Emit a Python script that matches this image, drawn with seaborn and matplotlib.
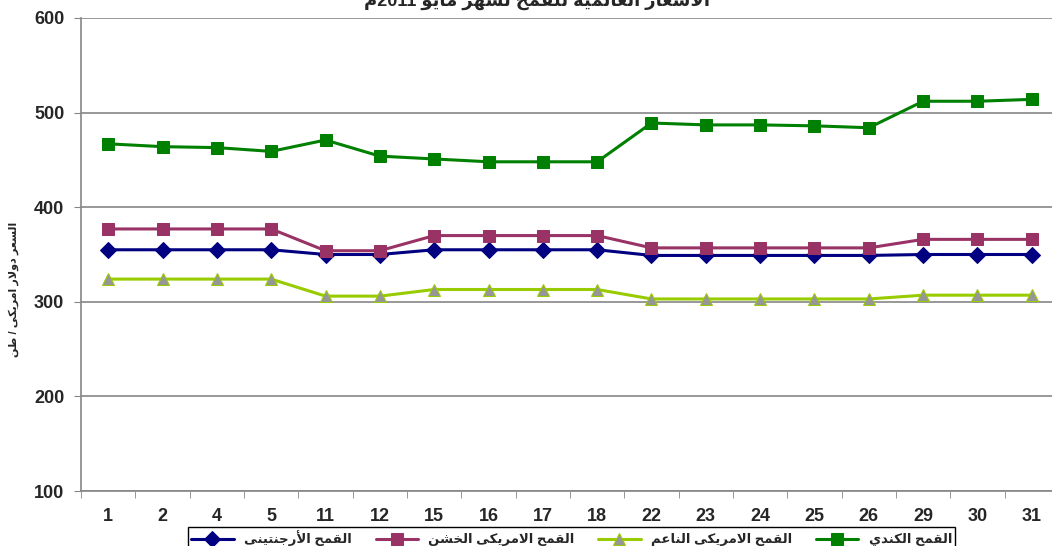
import re
import pandas as pd
import seaborn as sns
import matplotlib
matplotlib.use('Agg')
import matplotlib.pyplot as plt

#%% data
days = ['1', '2', '4', '5', '11', '12', '15', '16', '17', '18',
        '22', '23', '24', '25', '26', '29', '30', '31']
argentine = [355, 355, 355, 355, 350, 350, 355, 355, 355, 355,
             349, 349, 349, 349, 349, 350, 350, 350]
us_hard = [377, 377, 377, 377, 354, 354, 370, 370, 370, 370,
           357, 357, 357, 357, 357, 366, 366, 366]
us_soft = [324, 324, 324, 324, 306, 306, 313, 313, 313, 313,
           303, 303, 303, 303, 303, 307, 307, 307]
canadian = [467, 464, 463, 459, 471, 454, 451, 448, 448, 448,
            489, 487, 487, 486, 484, 512, 512, 514]

title = 'الأسعار العالمية للقمح لشهر مايو 2011م'
ylabel = 'السعر دولار امريكى / طن'
names = ['القمح الأرجنتينى', 'القمح الامريكى الخشن', 'القمح الامريكى الناعم', 'القمح الكندي']

#%% simple arabic shaping (no arabic_reshaper in sandbox)
FORMS = {
    'ا': ('\uFE8D', '\uFE8E'), 'أ': ('\uFE83', '\uFE84'),
    'د': ('\uFEA9', '\uFEAA'), 'ر': ('\uFEAD', '\uFEAE'),
    'و': ('\uFEED', '\uFEEE'), 'ة': ('\uFE93', '\uFE94'),
    'ب': ('\uFE8F', '\uFE90', '\uFE91', '\uFE92'),
    'ت': ('\uFE95', '\uFE96', '\uFE97', '\uFE98'),
    'ج': ('\uFE9D', '\uFE9E', '\uFE9F', '\uFEA0'),
    'ح': ('\uFEA1', '\uFEA2', '\uFEA3', '\uFEA4'),
    'خ': ('\uFEA5', '\uFEA6', '\uFEA7', '\uFEA8'),
    'س': ('\uFEB1', '\uFEB2', '\uFEB3', '\uFEB4'),
    'ش': ('\uFEB5', '\uFEB6', '\uFEB7', '\uFEB8'),
    'ط': ('\uFEC1', '\uFEC2', '\uFEC3', '\uFEC4'),
    'ع': ('\uFEC9', '\uFECA', '\uFECB', '\uFECC'),
    'ق': ('\uFED5', '\uFED6', '\uFED7', '\uFED8'),
    'ك': ('\uFED9', '\uFEDA', '\uFEDB', '\uFEDC'),
    'ل': ('\uFEDD', '\uFEDE', '\uFEDF', '\uFEE0'),
    'م': ('\uFEE1', '\uFEE2', '\uFEE3', '\uFEE4'),
    'ن': ('\uFEE5', '\uFEE6', '\uFEE7', '\uFEE8'),
    'ه': ('\uFEE9', '\uFEEA', '\uFEEB', '\uFEEC'),
    'ي': ('\uFEF1', '\uFEF2', '\uFEF3', '\uFEF4'),
    'ى': ('\uFEEF', '\uFEF0', '\uFBE8', '\uFBE9'),
    'لا': ('\uFEFB', '\uFEFC'), 'لأ': ('\uFEF7', '\uFEF8'),
}

def shape(text):
    units = []
    i = 0
    while i < len(text):
        if text[i] == 'ل' and i + 1 < len(text) and text[i + 1] in 'اأ':
            units.append(text[i:i + 2])
            i += 2
        else:
            units.append(text[i])
            i += 1
    out = []
    for k, u in enumerate(units):
        if u not in FORMS:
            out.append(u)
            continue
        prev = units[k - 1] if k > 0 else None
        nxt = units[k + 1] if k + 1 < len(units) else None
        jp = prev in FORMS and len(FORMS[prev]) == 4
        jn = len(FORMS[u]) == 4 and nxt in FORMS
        f = FORMS[u]
        if jp and jn:
            out.append(f[3])
        elif jp:
            out.append(f[1])
        elif jn:
            out.append(f[2])
        else:
            out.append(f[0])
    s = ''.join(out)[::-1]
    return re.sub(r'[0-9]+', lambda m: m.group(0)[::-1], s)

#%% plot setup
sns.set_style('white')
plt.rcParams['font.family'] = ['Liberation Sans', 'DejaVu Sans']
plt.rcParams['font.weight'] = 'bold'

fig = plt.figure(figsize=(10.52, 5.46), dpi=100)
ax = fig.add_axes([81 / 1052, 1 - 491 / 546, 978 / 1052, 473 / 546])

styles = [
    dict(color='#000080', marker='D', markersize=8, mfc='#000080', mec='#000080'),
    dict(color='#993366', marker='s', markersize=8, mfc='#993366', mec='#993366'),
    dict(color='#99CC00', marker='^', markersize=8, mfc='#969696', mec='#99CC00'),
    dict(color='#008000', marker='s', markersize=8, mfc='#008000', mec='#008000'),
]
series = [argentine, us_hard, us_soft, canadian]
for vals, name, st in zip(series, names, styles):
    df = pd.DataFrame({'day': days, 'price': vals})
    sns.lineplot(data=df, x='day', y='price', ax=ax, sort=False, linewidth=2.2,
                 label=shape(name), **st)

ax.set_ylim(100, 600)
ax.set_xlim(-0.5, len(days) - 0.5)
ax.set_yticks(range(100, 700, 100))
ax.yaxis.grid(True, color='#868686', linewidth=1.2)
ax.set_xlabel(None)
ax.set_ylabel(None)
for s in ['top', 'right']:
    ax.spines[s].set_visible(False)
for s in ['left', 'bottom']:
    ax.spines[s].set_color('#868686')
    ax.spines[s].set_linewidth(1.2)
ax.set_xticks([i - 0.5 for i in range(len(days) + 1)], minor=True)
ax.tick_params(axis='x', which='major', length=0, pad=12, labelsize=13)
ax.tick_params(axis='x', which='minor', length=5, color='#868686', direction='out', bottom=True)
ax.tick_params(axis='y', length=5, color='#868686', direction='out', left=True, labelsize=13, pad=7)
for lab in ax.get_xticklabels() + ax.get_yticklabels():
    lab.set_fontweight('bold')

fig.text(537 / 1052, 1 - 7 / 546, shape(title), ha='center', va='baseline',
         fontsize=13, fontweight='bold')
fig.text(14 / 1052, 1 - 289 / 546, shape(ylabel), ha='center', va='center',
         rotation=90, fontsize=8, fontweight='bold')

ax.legend_.remove()
handles, labels = ax.get_legend_handles_labels()
leg = fig.legend(handles, labels, loc='upper left', bbox_to_anchor=(188 / 1052, 1 - 527 / 546),
                 ncol=4, frameon=True, fancybox=False, edgecolor='black', framealpha=1,
                 prop=dict(size=9.5, weight='bold'), handlelength=3.2, columnspacing=1.8,
                 borderpad=0.25, handletextpad=0.8, borderaxespad=0)
leg.get_frame().set_linewidth(1.0)

plt.savefig('out.png', dpi=100)
